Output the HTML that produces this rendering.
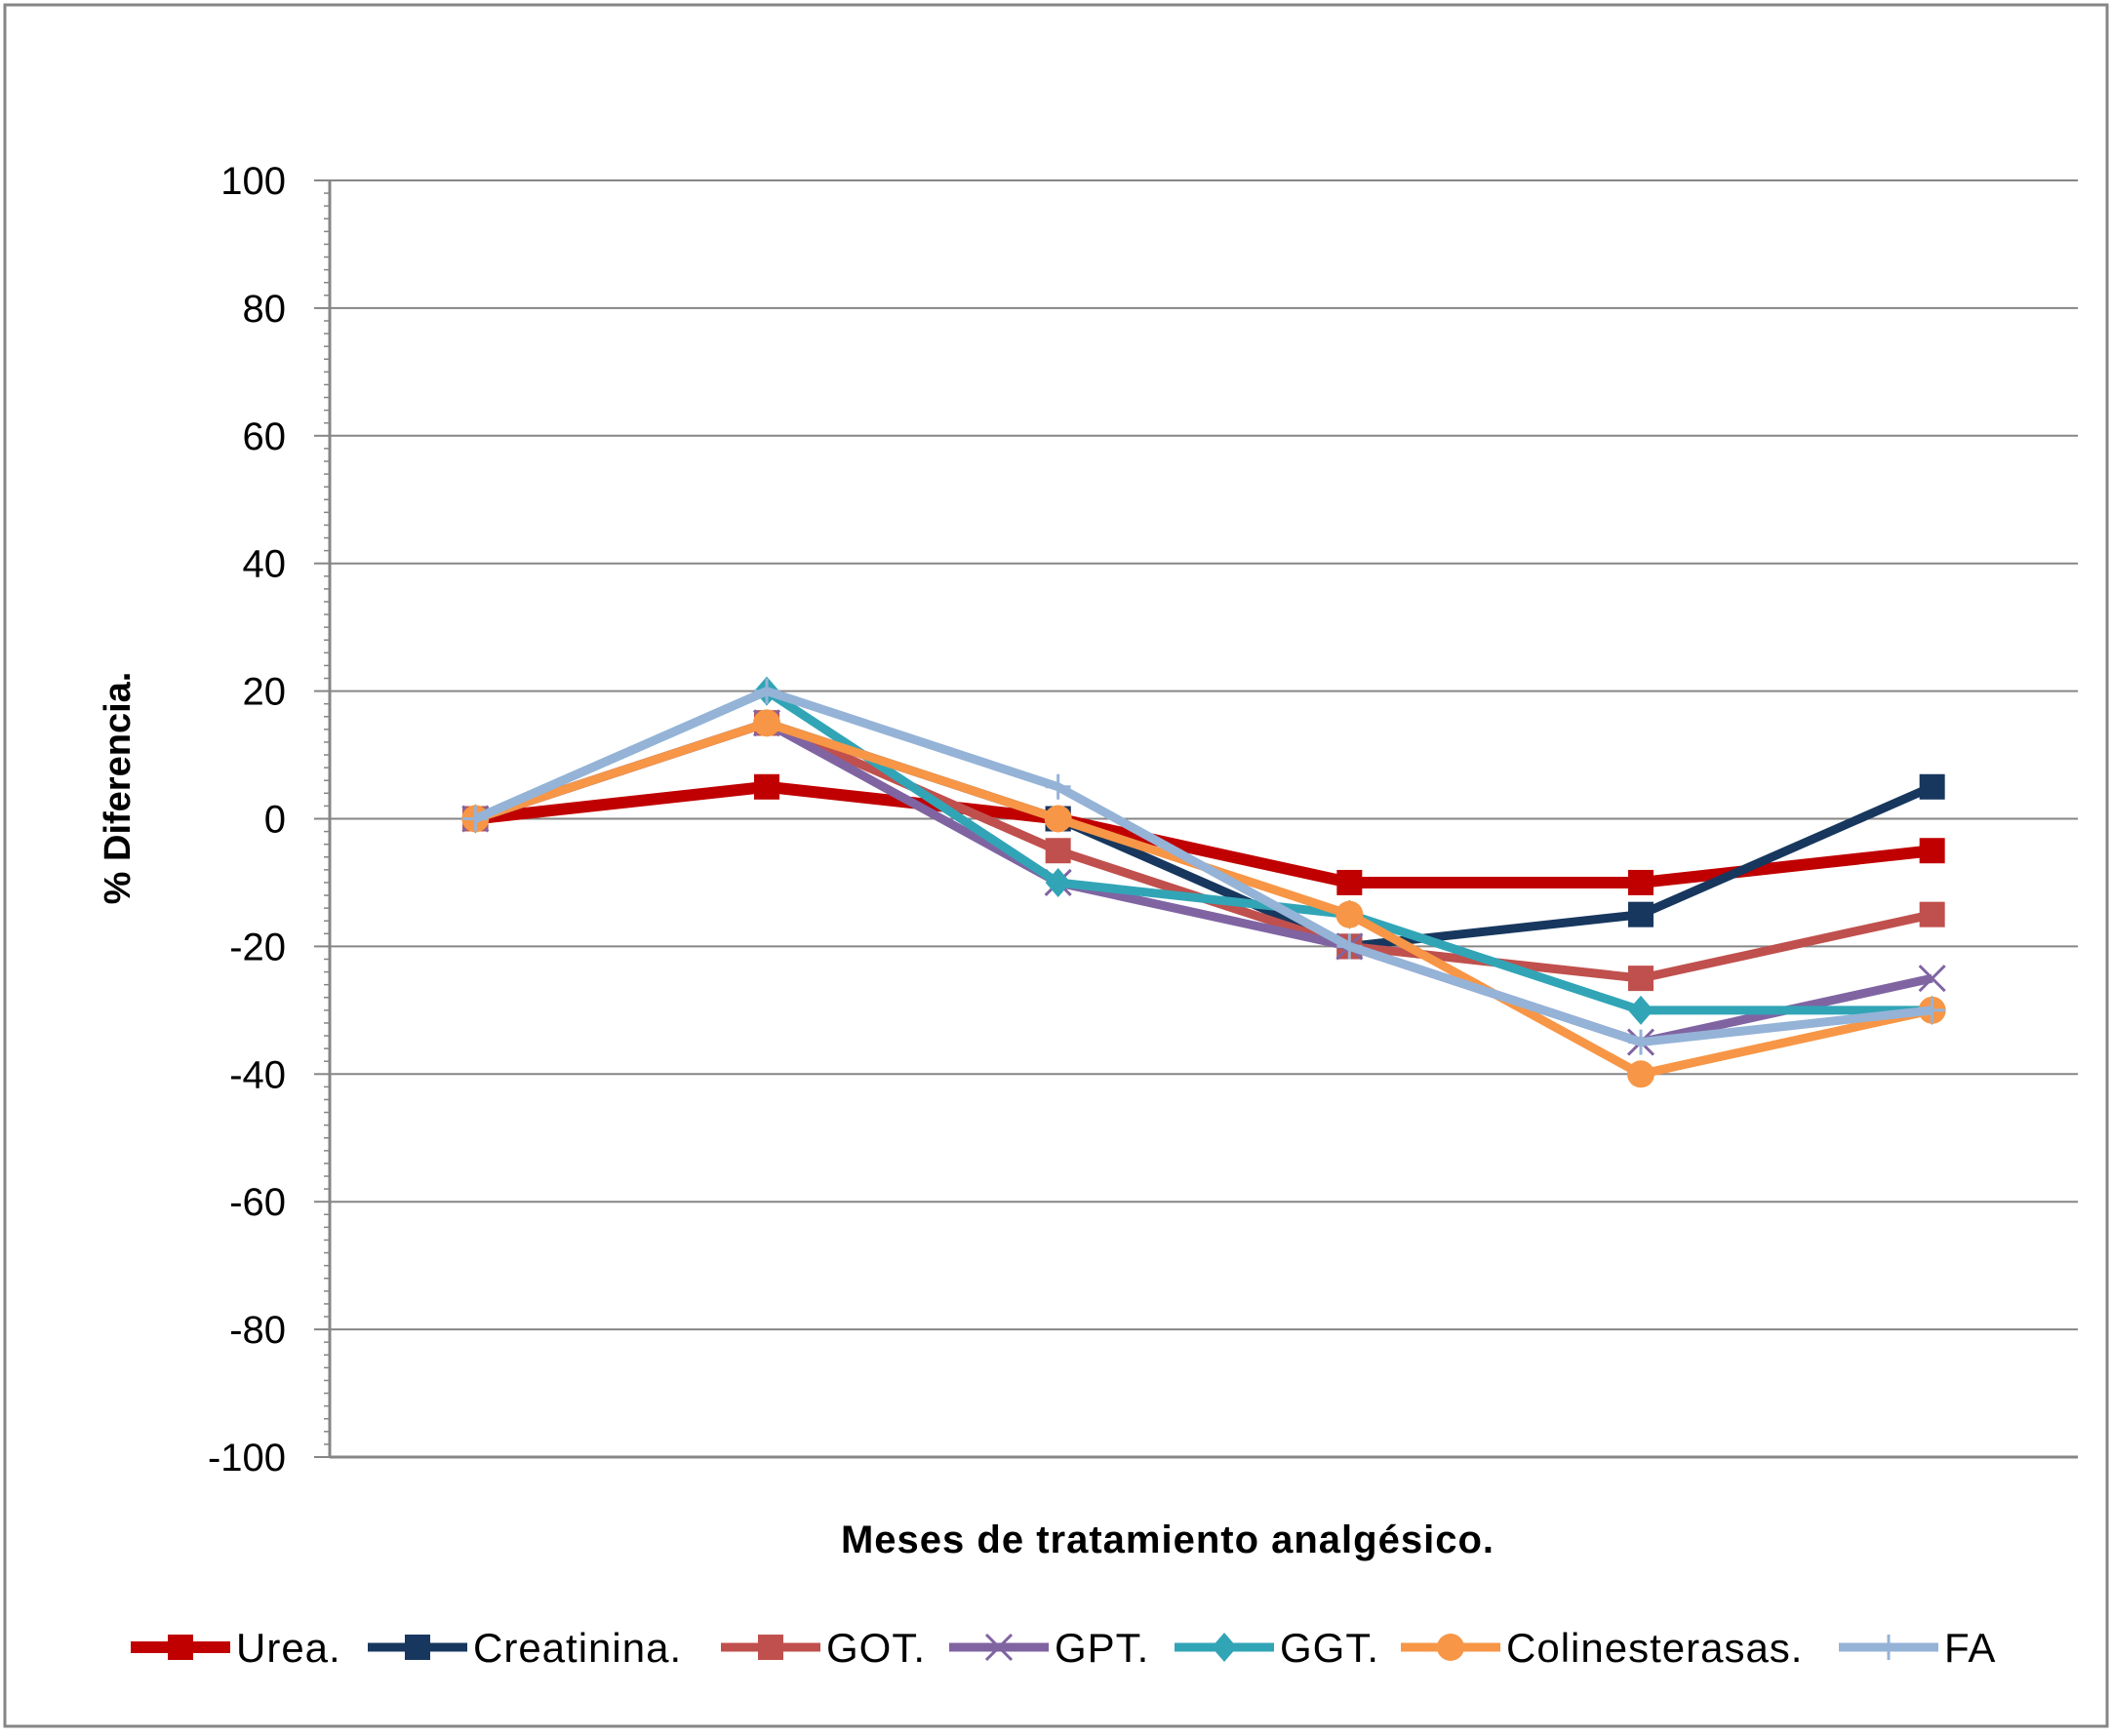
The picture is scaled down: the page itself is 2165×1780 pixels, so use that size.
<!DOCTYPE html>
<html><head><meta charset="utf-8"><style>
html,body{margin:0;padding:0;background:#fff;}
svg{display:block;font-family:"Liberation Sans",Arial,sans-serif;}
</style></head><body>
<svg id="chart" width="2165" height="1780" viewBox="0 0 2165 1780" xmlns="http://www.w3.org/2000/svg">
<rect x="5" y="5" width="2155" height="1765" fill="#fff" stroke="#868686" stroke-width="3"/>
<g id="grid"></g><g id="axis"></g><g id="series"></g><g id="legend"></g>
<text transform="translate(133,808) rotate(-90)" text-anchor="middle" font-size="38" font-weight="bold">% Diferencia.</text>
<text x="1197" y="1592" text-anchor="middle" font-size="40" font-weight="bold" letter-spacing="1">Meses de  tratamiento analgésico.</text>
</svg>
<script>
const categories = ["1","2","3","4","5","6"];
const yTicks = [100,80,60,40,20,0,-20,-40,-60,-80,-100];
const seriesNames = ["Urea.","Creatinina.","GOT.","GPT.","GGT.","Colinesterasas.","FA"];
const urea = [0,5,0,-10,-10,-5];
const creatinina = [0,15,0,-20,-15,5];
const got = [0,15,-5,-20,-25,-15];
const gpt = [0,15,-10,-20,-35,-25];
const ggt = [0,20,-10,-15,-30,-30];
const colin = [0,15,0,-15,-40,-30];
const fa = [0,20,5,-20,-35,-30];

const NS="http://www.w3.org/2000/svg";
const L=338,R=2130,T=185,B=1494;
const band=(R-L)/categories.length;
const x=i=>L+band*(i+0.5);
const y=v=>T+(100-v)/200*(B-T);
function mk(tag,attrs,parent){const e=document.createElementNS(NS,tag);for(const k in attrs)e.setAttribute(k,attrs[k]);parent.appendChild(e);return e;}
const grid=document.getElementById('grid'),axis=document.getElementById('axis'),ser=document.getElementById('series'),leg=document.getElementById('legend');
yTicks.forEach(t=>{
  if(t!==-100){const g=mk('line',{x1:L,x2:R,y1:y(t),y2:y(t),stroke:'#868686','stroke-width':2},grid);
  
  }
  const tk=mk('line',{x1:322,x2:L,y1:y(t),y2:y(t),stroke:'#868686','stroke-width':2},axis);
  
  
  const tx=mk('text',{x:293,y:y(t)+14,'text-anchor':'end','font-size':40},axis);
  tx.textContent=t;
  
  
});
for(let v=-100;v<=100;v+=2){mk('line',{x1:332,x2:L,y1:y(v),y2:y(v),stroke:'#868686','stroke-width':1.5},axis);}
const ax=mk('line',{x1:L,x2:L,y1:T,y2:B,stroke:'#868686','stroke-width':3},axis);


const xa=mk('line',{x1:L,x2:R,y1:B,y2:B,stroke:'#868686','stroke-width':3},axis);



const data=[urea,creatinina,got,gpt,ggt,colin,fa];
const colors=["#C00000","#17375E","#C0504D","#8064A2","#31A5B6","#F79646","#95B3D7"];
const widths=[12,9,9,9,9,9,9];
const markers=["sq","sq","sq","x","dia","circ","plus"];
function marker(type,cx,cy,c,p){
  const s=13;
  if(type==='sq')return mk('rect',{x:cx-s,y:cy-s,width:2*s,height:2*s,fill:c},p);
  if(type==='circ')return mk('circle',{cx,cy,r:s+1,fill:c},p);
  if(type==='dia')return mk('path',{d:`M${cx} ${cy-s-2}L${cx+s} ${cy}L${cx} ${cy+s+2}L${cx-s} ${cy}Z`,fill:c},p);
  if(type==='x')return mk('path',{d:`M${cx-s} ${cy-s}L${cx+s} ${cy+s}M${cx+s} ${cy-s}L${cx-s} ${cy+s}`,stroke:c,'stroke-width':3,fill:'none'},p);
  return mk('path',{d:`M${cx-s} ${cy}L${cx+s} ${cy}M${cx} ${cy-s}L${cx} ${cy+s}`,stroke:c,'stroke-width':3,fill:'none'},p);
}
data.forEach((d,si)=>{
  const g=mk('g',{},ser);
  
  
  mk('polyline',{points:d.map((v,i)=>x(i)+','+y(v)).join(' '),fill:'none',stroke:colors[si],'stroke-width':widths[si],'stroke-linejoin':'round'},g);
  d.forEach((v,i)=>{const m=marker(markers[si],x(i),y(v),colors[si],g);
    
    });
});
const legX=[134,377,739,973,1204,1436,1885];
data.forEach((d,si)=>{
  const g=mk('g',{},leg);
  
  
  const x0=legX[si],ly=1689;
  mk('line',{x1:x0,x2:x0+102,y1:ly,y2:ly,stroke:colors[si],'stroke-width':widths[si]},g);
  marker(markers[si],x0+51,ly,colors[si],g);
  const t=mk('text',{x:x0+108,y:ly+15,'font-size':42,'letter-spacing':1,fill:'#000'},g);
  t.textContent=seriesNames[si];
});
</script>
</body></html>
